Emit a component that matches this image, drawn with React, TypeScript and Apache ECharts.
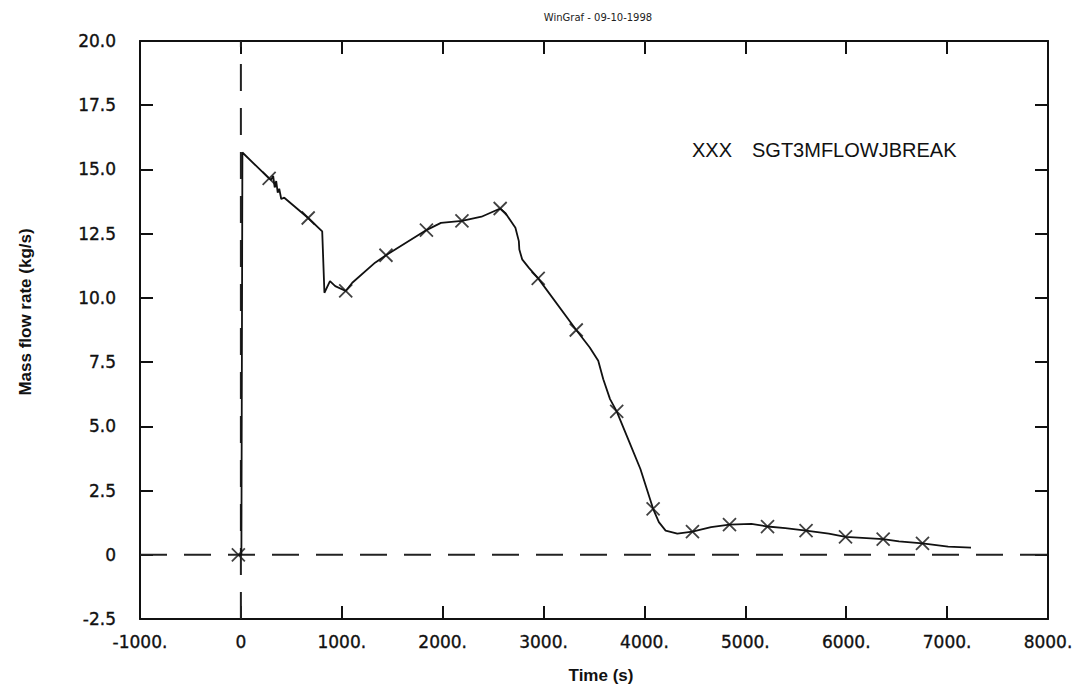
import React, { useEffect, useRef } from "react";
import * as echarts from "echarts";

// Time (s) and mass flow rate (kg/s) along the curve
const lineTime = [-25, 5, 15, 280, 300, 320, 335, 350, 365, 380, 400, 430, 667, 806, 828, 883, 935, 1039, 1104, 1330, 1438, 1839, 1983, 2191, 2385, 2570, 2620, 2721, 2755, 2760, 2788, 2855, 2947, 3324, 3458, 3542, 3592, 3659, 3725, 3825, 3960, 4086, 4143, 4210, 4326, 4476, 4660, 4843, 5060, 5220, 5396, 5602, 5827, 5993, 6366, 6523, 6756, 7010, 7237];
const lineFlow = [0, 0, 15.66, 14.65, 14.6, 14.75, 14.3, 14.55, 14.1, 14.25, 13.85, 13.9, 13.11, 12.59, 10.2, 10.65, 10.46, 10.27, 10.59, 11.37, 11.66, 12.64, 12.92, 13.0, 13.16, 13.48, 13.31, 12.73, 12.21, 11.88, 11.5, 11.17, 10.76, 8.75, 8.07, 7.55, 6.83, 6.06, 5.58, 4.63, 3.34, 1.79, 1.27, 0.94, 0.82, 0.9, 1.08, 1.17, 1.2, 1.1, 1.04, 0.94, 0.82, 0.7, 0.61, 0.52, 0.44, 0.32, 0.28];

// X markers placed along the curve
const markerTime = [-25, 280, 667, 1039, 1438, 1839, 2191, 2570, 2947, 3324, 3725, 4086, 4476, 4843, 5220, 5602, 5993, 6366, 6756];
const markerFlow = [0, 14.65, 13.11, 10.27, 11.66, 12.64, 13.0, 13.48, 10.76, 8.75, 5.58, 1.79, 0.9, 1.17, 1.1, 0.94, 0.7, 0.61, 0.44];

// Dashed reference lines
const zeroLineTime = [-1000, 8000];
const zeroLineFlow = [0, 0];
const vertLineTime = [0, 0];
const vertLineFlow = [-2.5, 20];

const xMin = -1000;
const xMax = 8000;
const xStep = 1000;
const yMin = -2.5;
const yMax = 20;
const yStep = 2.5;

const titleText = "WinGraf - 09-10-1998";
const seriesName = "SGT3MFLOWJBREAK";
const legendMark = "XXX";
const xName = "Time (s)";
const yName = "Mass flow rate (kg/s)";

const INK = "#111";
const TICK_FONT = '"DejaVu Sans", sans-serif';
const SANS = '"Liberation Sans", Arial, sans-serif';
const CROSS = "path://M0,0L10,10M10,0L0,10";

function zip(a: number[], b: number[]) {
  return a.map((v, i) => [v, b[i]]);
}

export default function App() {
  const ref = useRef<HTMLDivElement>(null);

  useEffect(() => {
    if (!ref.current) return;
    const chart = echarts.init(ref.current, null, { renderer: "svg" });

    const axisLine = { show: true, onZero: false, lineStyle: { color: INK, width: 2 } };
    const axisTick = { show: true, inside: true, length: 13, lineStyle: { color: INK, width: 2 } };

    const xBase = { type: "value", min: xMin, max: xMax, interval: xStep, splitLine: { show: false }, axisLine, axisTick };
    const yBase = { type: "value", min: yMin, max: yMax, interval: yStep, splitLine: { show: false }, axisLine, axisTick };

    const labelBase = {
      show: true,
      color: INK,
      fontFamily: TICK_FONT,
      fontSize: 17,
      showMinLabel: true,
      showMaxLabel: true,
      textBorderColor: INK,
      textBorderWidth: 0.35,
    };

    chart.setOption({
      animation: false,
      backgroundColor: "#fff",
      grid: { left: 140, top: 41, width: 908, height: 578, containLabel: false },
      xAxis: [
        {
          ...xBase,
          position: "bottom",
          axisLabel: {
            ...labelBase,
            margin: 14,
            formatter: (v: number) => (v === 0 ? "0" : `${v}.`),
          },
        },
        { ...xBase, position: "top", axisLabel: { show: false } },
      ],
      yAxis: [
        {
          ...yBase,
          position: "left",
          axisLabel: {
            ...labelBase,
            margin: 24,
            formatter: (v: number) => (v === 0 ? "0" : v.toFixed(1)),
          },
        },
        { ...yBase, position: "right", axisLabel: { show: false } },
      ],
      series: [
        {
          type: "line",
          name: "zero",
          xAxisIndex: 0,
          yAxisIndex: 0,
          data: zip(zeroLineTime, zeroLineFlow),
          symbol: "none",
          silent: true,
          lineStyle: { color: "#222", width: 2, type: [27, 17] },
        },
        {
          type: "line",
          name: "t0",
          xAxisIndex: 0,
          yAxisIndex: 0,
          data: zip(vertLineTime, vertLineFlow),
          symbol: "none",
          silent: true,
          lineStyle: { color: "#222", width: 2, type: [27, 17] },
        },
        {
          type: "line",
          name: seriesName,
          xAxisIndex: 0,
          yAxisIndex: 0,
          data: zip(lineTime, lineFlow),
          symbol: "none",
          silent: true,
          lineStyle: { color: INK, width: 1.8 },
        },
        {
          type: "scatter",
          name: seriesName + " markers",
          xAxisIndex: 0,
          yAxisIndex: 0,
          data: zip(markerTime, markerFlow),
          symbol: CROSS,
          symbolSize: 13,
          silent: true,
          itemStyle: { color: "rgba(0,0,0,0)", borderColor: INK, borderWidth: 1.8 },
        },
      ],
      graphic: [
        {
          type: "text",
          x: 598,
          y: 17,
          silent: true,
          style: { text: titleText, fontFamily: TICK_FONT, fontSize: 10, fill: "#222", align: "center", verticalAlign: "middle" },
        },
        {
          type: "text",
          x: 692,
          y: 150,
          silent: true,
          style: { text: legendMark, fontFamily: SANS, fontSize: 20, fill: INK, align: "left", verticalAlign: "middle" },
        },
        {
          type: "text",
          x: 752,
          y: 150,
          silent: true,
          style: { text: seriesName, fontFamily: SANS, fontSize: 20, fill: INK, align: "left", verticalAlign: "middle" },
        },
        {
          type: "text",
          x: 601,
          y: 675,
          silent: true,
          style: { text: xName, fontFamily: SANS, fontSize: 17, fontWeight: "bold", fill: INK, align: "center", verticalAlign: "middle" },
        },
        {
          type: "text",
          x: 25,
          y: 312,
          rotation: Math.PI / 2,
          silent: true,
          style: { text: yName, fontFamily: SANS, fontSize: 17, fontWeight: "bold", fill: INK, align: "center", verticalAlign: "middle" },
        },
      ],
    });

    return () => chart.dispose();
  }, []);

  return (
    <div
      ref={ref}
      style={{ position: "fixed", left: 0, top: 0, width: 1077, height: 690, background: "#fff" }}
    />
  );
}
